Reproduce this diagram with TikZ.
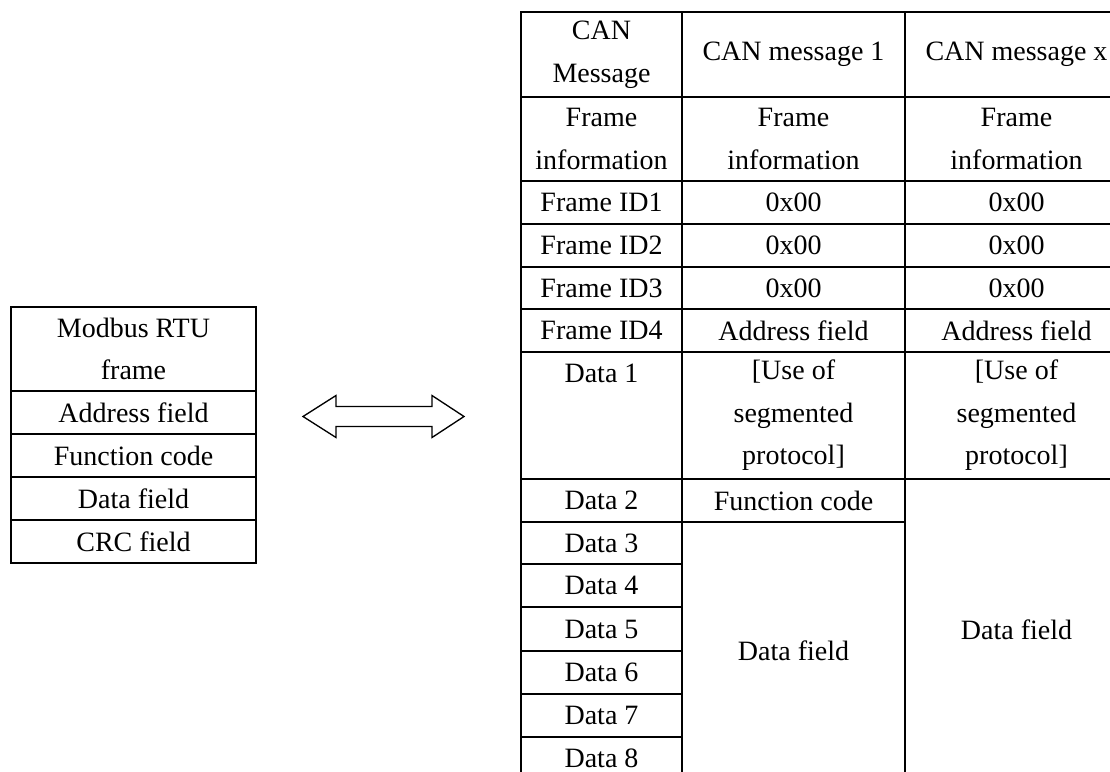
\documentclass[tikz,border=0pt]{standalone}
\usepackage{fontspec}
\setmainfont{Liberation Serif}
\begin{document}
\begin{tikzpicture}[x=0.75pt,y=-0.75pt,
  cell/.style={draw, line width=1pt, inner sep=0pt, align=center,
    font=\fontsize{21pt}{31.9pt}\selectfont},
  lbl/.style={inner sep=0pt, align=center, font=\fontsize{21pt}{31.9pt}\selectfont},
  w0/.style={minimum width=120.75pt},
  w1/.style={minimum width=167.25pt},
  wl/.style={minimum width=183.75pt},
  h2/.style={minimum height=63pt},
  h1/.style={minimum height=32.25pt},
  fat/.style={draw, line width=1pt, line join=miter}]
\useasboundingbox (0,0) rectangle (1110,771);
\clip (0,0) rectangle (1110,771);

% ---- Modbus RTU frame ----
\node[cell, wl, h2] (mhead) at (133.5,349) {Modbus RTU\\frame};
\node[cell, wl, h1] (maddr) at (133.5,412.5) {Address field};
\node[cell, wl, h1] (mfunc) at (133.5,455.5) {Function code};
\node[cell, wl, h1] (mdata) at (133.5,498.5) {Data field};
\node[cell, wl, h1] (mcrc)  at (133.5,541.5) {CRC field};

% ---- two-way conversion arrow ----
\draw[fat] (303,416.5) -- (336,395.5) -- (336,406.5) -- (432,406.5) -- (432,395.5)
  -- (464,416.5) -- (432,437.5) -- (432,426.5) -- (336,426.5) -- (336,437.5) -- cycle;

% ---- CAN messages: first column ----
\node[cell, w0, minimum height=63.75pt] (chead) at (601.5,54.5) {CAN\\Message};
\node[cell, w0, h2] (cinfo) at (601.5,139) {Frame\\information};
\node[cell, w0, h1] (cid1) at (601.5,202.5) {Frame ID1};
\node[cell, w0, h1] (cid2) at (601.5,245.5) {Frame ID2};
\node[cell, w0, minimum height=31.5pt] (cid3) at (601.5,288) {Frame ID3};
\node[cell, w0, h1] (cid4) at (601.5,330.5) {Frame ID4};
\node[cell, w0, minimum height=95.25pt] (cd1) at (601.5,415.5) {};
\node[lbl] (cd1t) at (601.5,373.5) {Data 1};
\node[cell, w0, h1] (cd2) at (601.5,500.5) {Data 2};
\node[cell, w0, minimum height=31.5pt] (cd3) at (601.5,543) {Data 3};
\node[cell, w0, h1] (cd4) at (601.5,585.5) {Data 4};
\node[cell, w0, minimum height=33pt] (cd5) at (601.5,629) {Data 5};
\node[cell, w0, h1] (cd6) at (601.5,672.5) {Data 6};
\node[cell, w0, h1] (cd7) at (601.5,715.5) {Data 7};
\node[cell, w0, h1] (cd8) at (601.5,758.5) {Data 8};

% ---- CAN message 1 ----
\node[cell, w1, minimum height=63.75pt] (ahead) at (793.5,54.5) {CAN message 1};
\node[cell, w1, h2] (ainfo) at (793.5,139) {Frame\\information};
\node[cell, w1, h1] (aid1) at (793.5,202.5) {0x00};
\node[cell, w1, h1] (aid2) at (793.5,245.5) {0x00};
\node[cell, w1, minimum height=31.5pt] (aid3) at (793.5,288) {0x00};
\node[cell, w1, h1] (aaddr) at (793.5,330.5) {Address field};
\node[cell, w1, minimum height=95.25pt] (aseg) at (793.5,415.5) {[Use of\\segmented\\protocol]};
\node[cell, w1, h1] (afunc) at (793.5,500.5) {Function code};
\node[cell, w1, minimum height=193.5pt] (adata) at (793.5,651) {Data field};

% ---- CAN message x ----
\node[cell, w1, minimum height=63.75pt] (xhead) at (1016.5,54.5) {CAN message x};
\node[cell, w1, h2] (xinfo) at (1016.5,139) {Frame\\information};
\node[cell, w1, h1] (xid1) at (1016.5,202.5) {0x00};
\node[cell, w1, h1] (xid2) at (1016.5,245.5) {0x00};
\node[cell, w1, minimum height=31.5pt] (xid3) at (1016.5,288) {0x00};
\node[cell, w1, h1] (xaddr) at (1016.5,330.5) {Address field};
\node[cell, w1, minimum height=95.25pt] (xseg) at (1016.5,415.5) {[Use of\\segmented\\protocol]};
\node[cell, w1, minimum height=225.75pt] (xdata) at (1016.5,629.5) {Data field};
\end{tikzpicture}
\end{document}
